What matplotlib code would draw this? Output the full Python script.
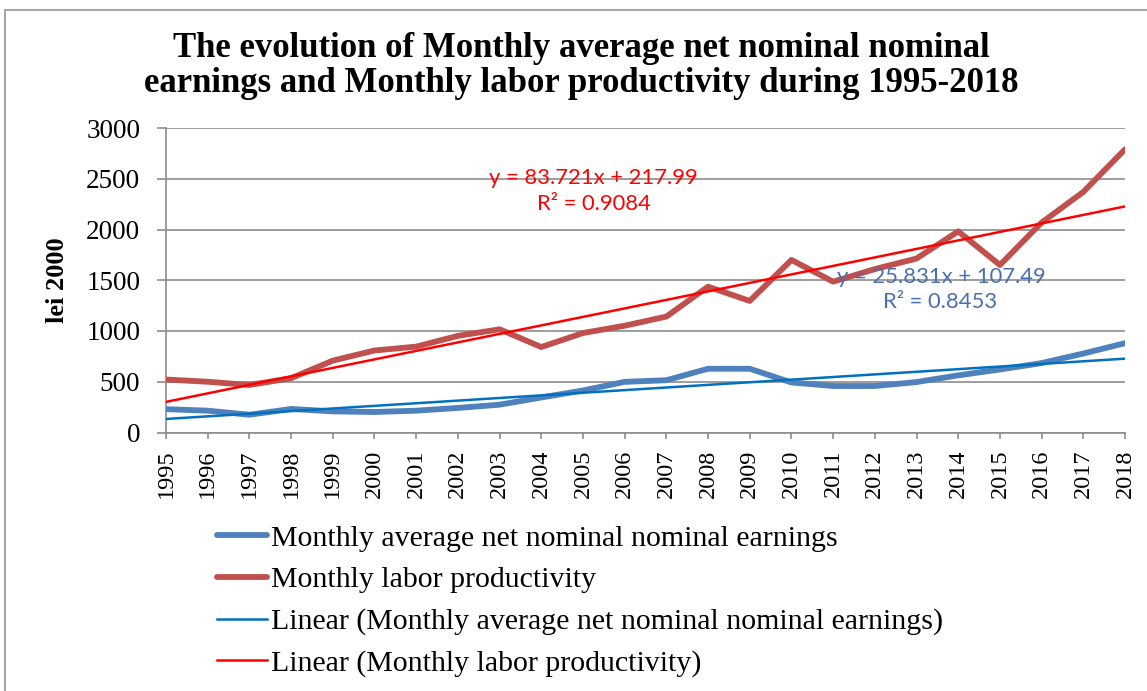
import matplotlib
matplotlib.use("Agg")
import matplotlib.pyplot as plt
from matplotlib.patches import Rectangle
import numpy as np

# ---- data ------------------------------------------------------------
YEARS = list(range(1995, 2019))
EARNINGS = [230, 215, 175, 232, 208, 202, 215, 242, 274, 345, 414, 499,
            515, 628, 628, 493, 458, 458, 497, 563, 621, 684, 778, 880]
PRODUCTIVITY = [522, 500, 468, 535, 708, 808, 846, 952, 1017, 842, 980, 1052,
                1142, 1437, 1296, 1700, 1486, 1610, 1714, 1982, 1650, 2068, 2370, 2790]

# Excel trendline coefficients (x = 1 .. 24)
EARN_SLOPE, EARN_ICPT, EARN_R2 = 25.831, 107.49, 0.8453
PROD_SLOPE, PROD_ICPT, PROD_R2 = 83.721, 217.99, 0.9084

TITLE = ("The evolution of Monthly average net nominal nominal\n"
         "earnings and Monthly labor productivity during 1995-2018")
LABELS = [
    "Monthly average net nominal nominal earnings",
    "Monthly labor productivity",
    "Linear (Monthly average net nominal nominal earnings)",
    "Linear (Monthly labor productivity)",
]

# ---- style -----------------------------------------------------------
C_EARN = "#4F81BD"
C_PROD = "#C0504D"
C_EARN_T = "#0070C0"
C_PROD_T = "#FF0000"
C_EARN_TXT = "#4A6FAE"
GRID = "#8C8C8C"
SERIF = ["Liberation Serif", "DejaVu Serif"]
SANS = ["Lato", "DejaVu Sans"]

W, H = 1147, 691
fig = plt.figure(figsize=(W / 100, H / 100), dpi=100)
fig.patch.set_facecolor("white")

# outer chart border (cropped at right/bottom in the reference)
fig.add_artist(Rectangle((5 / W, -0.1), 1.2, 1.1 - 10 / H, transform=fig.transFigure,
                         fill=False, edgecolor="#A6A6A6", linewidth=1.5))

left, right = 166 / W, 1125 / W
bottom, top = 1 - 432.5 / H, 1 - 128 / H
ax = fig.add_axes([left, bottom, right - left, top - bottom])

x = np.array(YEARS)
idx = x - YEARS[0] + 1

ax.plot(x, EARNINGS, color=C_EARN, lw=4.2, solid_capstyle="round",
        solid_joinstyle="round", label=LABELS[0], zorder=3)
ax.plot(x, PRODUCTIVITY, color=C_PROD, lw=4.2, solid_capstyle="round",
        solid_joinstyle="round", label=LABELS[1], zorder=3)
ax.plot(x, EARN_SLOPE * idx + EARN_ICPT, color=C_EARN_T, lw=1.8,
        label=LABELS[2], zorder=4)
ax.plot(x, PROD_SLOPE * idx + PROD_ICPT, color=C_PROD_T, lw=1.8,
        label=LABELS[3], zorder=4)

ax.set_xlim(YEARS[0], YEARS[-1])
ax.set_ylim(0, 3000)
ax.set_yticks(range(0, 3001, 500))
ax.set_xticks(YEARS)
ax.set_xticklabels([str(y) for y in YEARS], rotation=90, family=SERIF, fontsize=17.5)
ax.set_yticklabels([str(v) for v in range(0, 3001, 500)], family=SERIF, fontsize=19.5)
ax.tick_params(axis="both", colors=GRID, labelcolor="black", width=1.2)
ax.tick_params(axis="x", length=4.5, pad=8)
ax.tick_params(axis="y", length=6.5, pad=12)
ax.grid(axis="y", color=GRID, lw=1.2)
ax.set_axisbelow(True)
for s in ("top", "right"):
    ax.spines[s].set_visible(False)
for s in ("left", "bottom"):
    ax.spines[s].set_color(GRID)
    ax.spines[s].set_linewidth(1.2)

fig.text(57 / W, 1 - 280 / H, "lei 2000", rotation=90, ha="center", va="center",
         family=SERIF, fontsize=19, fontweight="bold")

# trendline equations
ax.text(2005.26, 2507, f"y = {PROD_SLOPE}x + {PROD_ICPT}", color=C_PROD_T,
        family=SANS, fontsize=15.8, ha="center", va="center", zorder=5)
ax.text(2005.26, 2253, f"R² = {PROD_R2}", color=C_PROD_T,
        family=SANS, fontsize=15.8, ha="center", va="center", zorder=5)
ax.text(2013.59, 1533, f"y = {EARN_SLOPE}x + {EARN_ICPT}", color=C_EARN_TXT,
        family=SANS, fontsize=15.8, ha="center", va="center", zorder=5)
ax.text(2013.56, 1289, f"R² = {EARN_R2}", color=C_EARN_TXT,
        family=SANS, fontsize=15.8, ha="center", va="center", zorder=5)

fig.text(581 / W, 1 - 66 / H, TITLE, ha="center", va="center",
         family=SERIF, fontsize=25, fontweight="bold", linespacing=1.08)

handles, labels = ax.get_legend_handles_labels()
fig.legend(handles, labels, loc="upper left", bbox_to_anchor=(217 / W, 1 - 525 / H),
           frameon=False, prop={"family": SERIF, "size": 21.5},
           handlelength=1.67, handletextpad=0.13, labelspacing=0.49, borderpad=0,
           borderaxespad=0)

fig.savefig("out.png", dpi=100, facecolor="white")
